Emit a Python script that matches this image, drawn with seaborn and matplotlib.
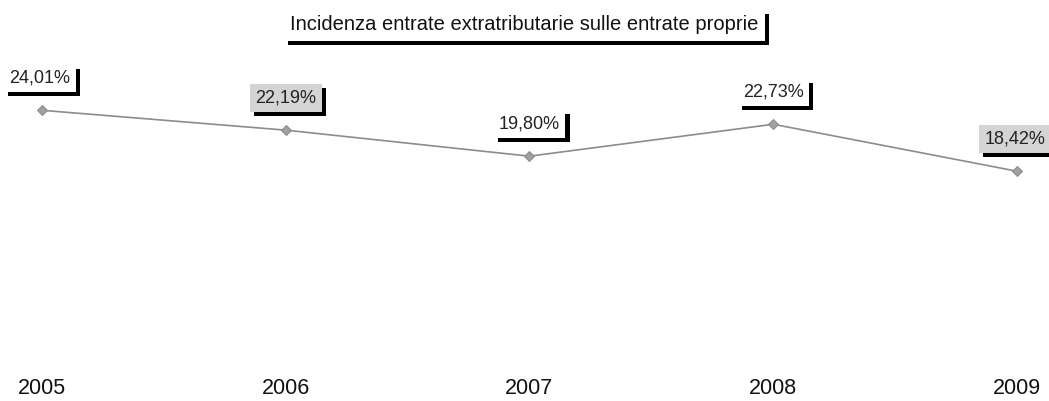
import matplotlib
matplotlib.use("Agg")
import matplotlib.pyplot as plt
import matplotlib.patheffects as pe
import seaborn as sns
import pandas as pd

years = ["2005", "2006", "2007", "2008", "2009"]
values = [24.01, 22.19, 19.80, 22.73, 18.42]
labels = ["24,01%", "22,19%", "19,80%", "22,73%", "18,42%"]
label_bg = ["white", "#d4d4d4", "white", "white", "#d4d4d4"]
title = "Incidenza entrate extratributarie sulle entrate proprie"

sns.set_theme(style="white")
plt.rcParams["font.family"] = ["Liberation Sans", "DejaVu Sans"]

df = pd.DataFrame({"year": years, "value": values})

fig = plt.figure(figsize=(10.49, 4.01), dpi=100)
ax = fig.add_axes([0, 29 / 401, 1, 1 - 29 / 401])
sns.lineplot(data=df, x="year", y="value", ax=ax, color="#8c8c8c", linewidth=1.2,
             marker="D", markersize=5, markeredgecolor="#8c8c8c", markerfacecolor="#a0a0a0",
             sort=False)
ax.set_xlim(-0.172, 4.131)
ax.set_ylim(0, 34.13)
ax.set_xlabel("")
ax.set_ylabel("")
ax.set_yticks([])
ax.set_xticks([])
for s in ax.spines.values():
    s.set_visible(False)

shadow = [pe.withSimplePatchShadow(offset=(3, -3), shadow_rgbFace="black", alpha=1.0)]

for i, (v, lab, bg) in enumerate(zip(values, labels, label_bg)):
    dx = -2 if i == len(values) - 1 else 0
    if i == 0:
        dx = -2
    t = ax.annotate(lab, xy=(i, v), xytext=(dx, 32), textcoords="offset pixels",
                    ha="center", va="center", fontsize=13, color="#222222",
                    bbox=dict(boxstyle="square,pad=0.3", facecolor=bg, edgecolor="none"))
    t.get_bbox_patch().set_path_effects(shadow)

for i, y in enumerate(years):
    ax.annotate(y, xy=(i, 0), xytext=(0, -17), textcoords="offset pixels",
                ha="center", va="center", fontsize=15.5, color="#111111")

tt = fig.text(0.5, 1 - 25 / 401, title, ha="center", va="center", fontsize=14.5, color="#111111",
              bbox=dict(boxstyle="square,pad=0.3", facecolor="white", edgecolor="none"))
tt.get_bbox_patch().set_path_effects(shadow)

fig.savefig("out.png", dpi=100, facecolor="white")
